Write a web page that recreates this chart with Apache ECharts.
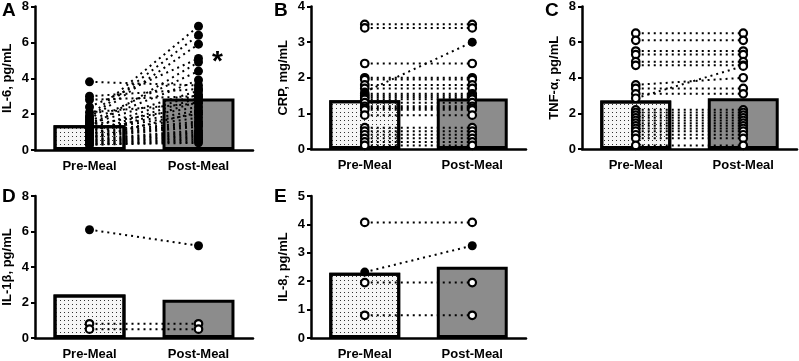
<!DOCTYPE html>
<html>
<head>
<meta charset="utf-8">
<script src="https://cdn.jsdelivr.net/npm/echarts@6/dist/echarts.min.js"></script>
<style>
  html, body { margin: 0; padding: 0; background: #fff; }
  #chart { width: 799px; height: 361px; }
</style>
</head>
<body>
<div id="chart"></div>
<script>
const meals = ["Pre-Meal", "Post-Meal"];

// group means (bars)
const il6Bars = [1.38, 2.87];
const crpBars = [1.37, 1.42];
const tnfBars = [2.72, 2.85];
const il1bBars = [2.45, 2.15];
const il8Bars = [2.30, 2.51];

// individual subjects, pre -> post
const il6Pre = [3.8, 3.0, 2.8, 2.4, 2.1, 1.9, 1.8, 1.7, 1.6, 1.5, 1.45, 1.4, 1.3, 1.2, 1.15, 1.1, 1.0, 0.95, 0.9, 0.85, 0.8, 0.75, 0.7, 0.65, 0.6, 0.55, 0.5, 0.45, 0.4, 0.35, 0.3, 0.3];
const il6Post = [3.6, 3.4, 3.0, 5.1, 2.6, 6.9, 6.4, 5.9, 4.4, 3.9, 3.3, 2.4, 4.9, 3.1, 2.2, 2.0, 2.9, 1.8, 1.6, 2.7, 1.5, 1.4, 1.3, 2.1, 1.1, 1.0, 0.9, 0.8, 0.7, 0.6, 0.5, 0.4];

const crpPre = [3.5, 3.4, 2.4, 2.0, 1.95, 1.8, 1.7, 1.6, 1.55, 1.5, 1.45, 1.4, 1.3, 1.2, 1.15, 1.1, 0.95, 0.6, 0.5, 0.4, 0.3, 0.2, 0.1];
const crpPost = [3.5, 3.4, 2.4, 2.0, 1.95, 1.8, 1.7, 3.0, 1.55, 1.5, 1.45, 1.4, 1.3, 1.2, 1.15, 1.1, 0.95, 0.6, 0.5, 0.4, 0.3, 0.2, 0.1];

const tnfPre = [6.5, 6.1, 5.5, 5.3, 4.9, 4.7, 3.6, 3.4, 3.1, 2.85, 2.2, 2.05, 1.9, 1.75, 1.6, 1.45, 1.3, 1.15, 1.0, 0.8, 0.6, 0.2];
const tnfPost = [6.5, 6.1, 5.5, 5.3, 4.9, 4.7, 4.0, 3.4, 3.1, 4.65, 2.2, 2.05, 1.9, 1.75, 1.6, 1.45, 1.3, 1.15, 1.0, 0.8, 0.6, 0.2];

const il1bPre = [6.1, 0.8, 0.5];
const il1bPost = [5.2, 0.8, 0.5];

const il8Pre = [4.07, 2.32, 1.95, 0.8];
const il8Post = [4.07, 3.25, 1.95, 0.8];

const FONT = "Liberation Sans";

// panel setup: grid, axis range, name, how markers are filled
const panels = [
  { letter: "A", name: "IL-6, pg/mL", bars: il6Bars, pre: il6Pre, post: il6Post, max: 8, step: 2, fill: "all",
    grid: { left: 32, top: 6, width: 221, height: 144 }, tag: [2, 1] },
  { letter: "B", name: "CRP, mg/mL", bars: crpBars, pre: crpPre, post: crpPost, max: 4, step: 1, fill: "changed",
    grid: { left: 311, top: 6, width: 215, height: 143 }, tag: [274, 1] },
  { letter: "C", name: "TNF-\u03b1, pg/mL", bars: tnfBars, pre: tnfPre, post: tnfPost, max: 8, step: 2, fill: "none",
    grid: { left: 582, top: 6, width: 215, height: 143 }, tag: [545, 1] },
  { letter: "D", name: "IL-1\u03b2, pg/mL", bars: il1bBars, pre: il1bPre, post: il1bPost, max: 8, step: 2, fill: "changed",
    grid: { left: 32, top: 196, width: 221, height: 144 }, tag: [2, 187] },
  { letter: "E", name: "IL-8, pg/mL", bars: il8Bars, pre: il8Pre, post: il8Post, max: 5, step: 1, fill: "changed",
    grid: { left: 311, top: 196, width: 215, height: 145 }, tag: [274, 187] }
];

const axisLine = { lineStyle: { color: "#000", width: 2.5 } };
const axisTick = { length: 4, lineStyle: { color: "#000", width: 2 } };

const grid = [], xAxis = [], yAxis = [], series = [], graphic = [];

panels.forEach((p, i) => {
  grid.push(p.grid);
  xAxis.push({
    type: "category", gridIndex: i, data: meals,
    axisLine, axisTick: { ...axisTick, alignWithLabel: true },
    axisLabel: { color: "#000", fontFamily: FONT, fontWeight: "bold", fontSize: 13, margin: 10 }
  });
  yAxis.push({
    type: "value", gridIndex: i, min: 0, max: p.max, interval: p.step,
    name: p.name, nameLocation: "middle", nameGap: 21,
    nameTextStyle: { color: "#000", fontFamily: FONT, fontWeight: "bold", fontSize: 13 },
    axisLine: { show: true, ...axisLine }, axisTick: { show: true, ...axisTick },
    splitLine: { show: false },
    axisLabel: { color: "#000", fontFamily: FONT, fontWeight: "bold", fontSize: 13, margin: 6 }
  });

  series.push({
    type: "bar", xAxisIndex: i, yAxisIndex: i, barWidth: "66%", z: 2,
    data: [
      { value: p.bars[0], itemStyle: { color: "#f6f6f6", borderColor: "#000", borderWidth: 3,
        decal: { symbol: "rect", symbolSize: 1, color: "#333", dashArrayX: [1, 3], dashArrayY: [1, 3], rotation: 0 } } },
      { value: p.bars[1], itemStyle: { color: "#8c8c8c", borderColor: "#000", borderWidth: 3 } }
    ],
    silent: true
  });

  p.pre.forEach((v, k) => {
    const changed = v !== p.post[k];
    const filled = p.fill === "all" || (p.fill === "changed" && changed);
    series.push({
      type: "line", xAxisIndex: i, yAxisIndex: i, z: filled ? 4 : 3,
      data: [v, p.post[k]],
      symbol: "circle", symbolSize: filled ? 9 : 7.5, showSymbol: true,
      lineStyle: { color: "#000", width: 2, type: [2, 4] },
      itemStyle: filled ? { color: "#000" } : { color: "#fff", borderColor: "#000", borderWidth: 2.2 },
      silent: true, animation: false
    });
  });

  graphic.push({
    type: "text", left: p.tag[0], top: p.tag[1],
    style: { text: p.letter, fontFamily: FONT, fontWeight: "bold", fontSize: 19, fill: "#000" }
  });
});

graphic.push({
  type: "text", left: 212, top: 48,
  style: { text: "*", fontFamily: FONT, fontWeight: "bold", fontSize: 28, fill: "#000" }
});

const chart = echarts.init(document.getElementById("chart"));
chart.setOption({ animation: false, grid, xAxis, yAxis, series, graphic });
</script>
</body>
</html>
